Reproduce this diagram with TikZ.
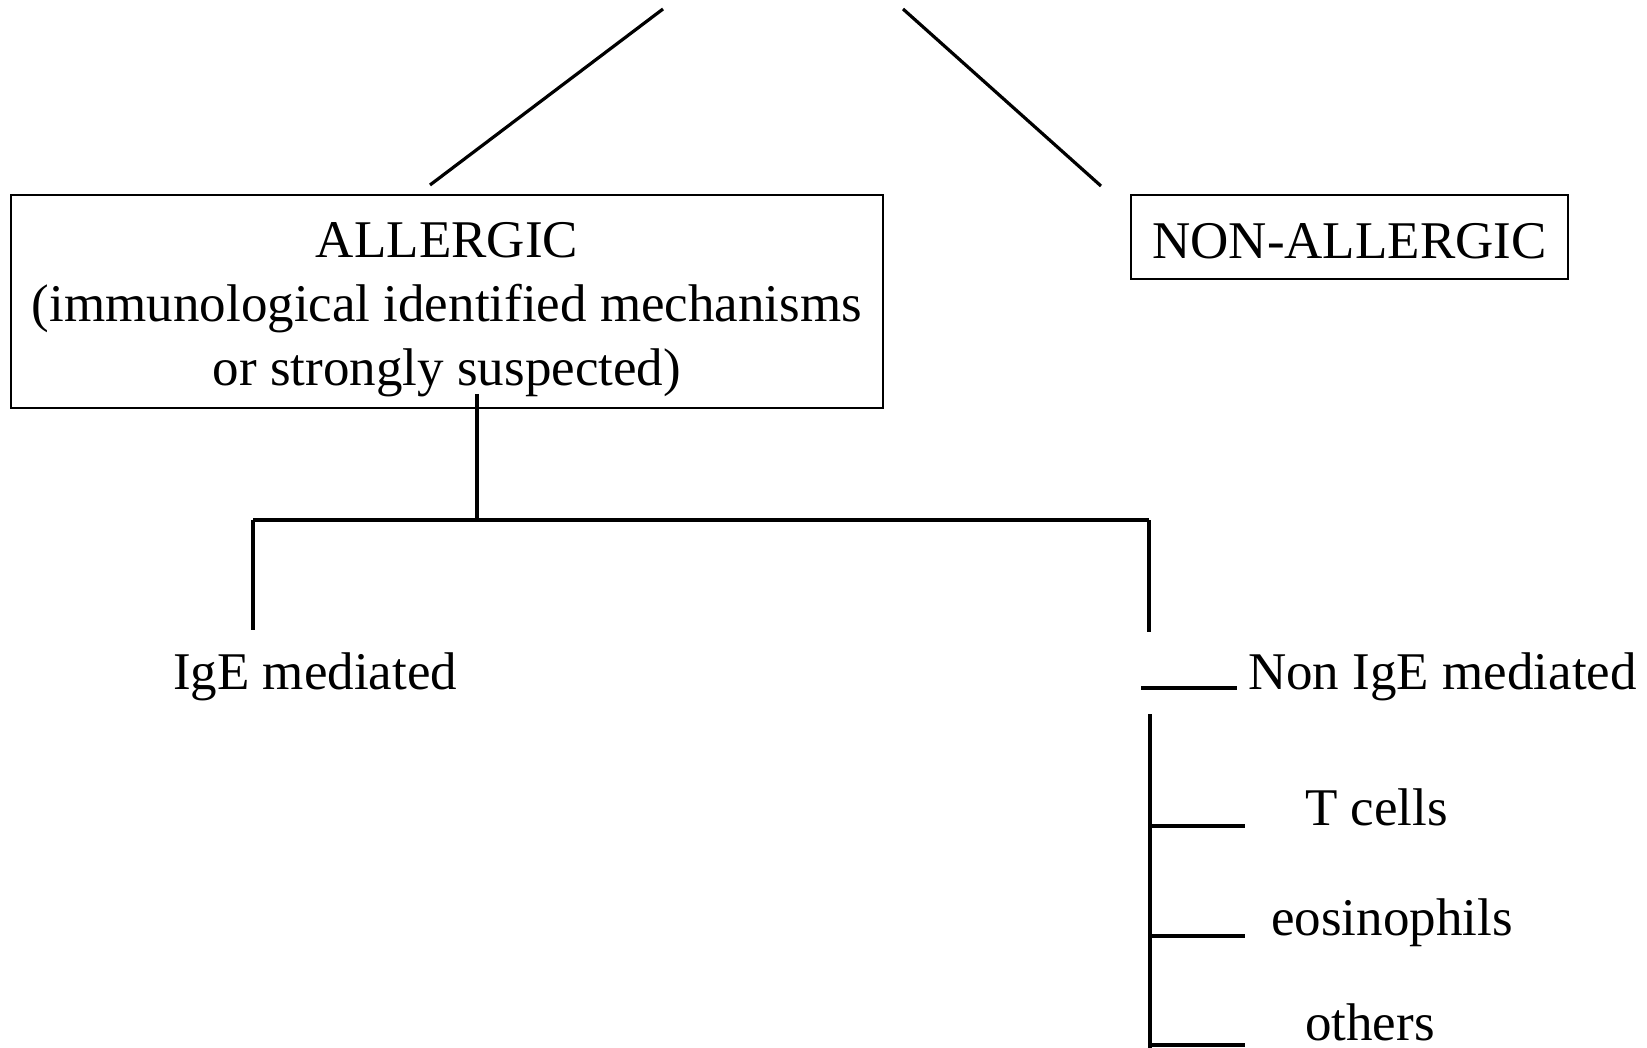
\documentclass[tikz,border=0pt]{standalone}
\usepackage{fontspec}
\setmainfont{Liberation Serif}
\begin{document}
\begin{tikzpicture}[x=1pt,y=-1pt,
  conn/.style={line width=3.2pt},
  box/.style={draw, line width=2pt, inner sep=0pt},
  lbl/.style={font=\fontsize{53}{64}\selectfont, inner sep=0pt}]
\useasboundingbox (0,0) rectangle (1647,1048);
% boxes
\node[box, minimum width=872pt, minimum height=213pt] (allergic) at (447,301.5) {};
\node[lbl, align=center] (alltext) at (447,310) {ALLERGIC\\(immunological identified mechanisms\\or strongly suspected)};
\node[box, minimum width=437pt, minimum height=84pt] (nonallergic) at (1349.5,237) {};
\node[lbl] (nonalltext) at (1349.5,241) {NON-ALLERGIC};
% labels
\node[lbl, anchor=base west] (ige) at (173,689) {IgE mediated};
\node[lbl, anchor=base west] (nonige) at (1248,689) {Non IgE mediated};
\node[lbl, anchor=base west] (tcells) at (1305,825) {T cells};
\node[lbl, anchor=base west] (eos) at (1271,935) {eosinophils};
\node[lbl, anchor=base west] (others) at (1305,1040) {others};
% connector end points
\coordinate (t1) at (663,9);
\coordinate (b1) at (430,185);
\coordinate (t2) at (903,9);
\coordinate (b2) at (1101,186);
\coordinate (s0) at (477,394);
\coordinate (j0) at (477,520);
\coordinate (jl) at (253,520);
\coordinate (jr) at (1149,520);
\coordinate (el) at (253,630);
\coordinate (er) at (1149,632);
\coordinate (n1) at (1141,688);
\coordinate (n2) at (1237,688);
\coordinate (v1) at (1150,714);
\coordinate (v2) at (1150,1048);
\coordinate (h1) at (1150,826);
\coordinate (h1e) at (1245,826);
\coordinate (h2) at (1150,936);
\coordinate (h2e) at (1245,936);
\coordinate (h3) at (1150,1045);
\coordinate (h3e) at (1245,1045);
% connectors
\draw[conn] (t1) -- (b1);
\draw[conn] (t2) -- (b2);
\draw[conn] (s0) -- (j0);
\draw[conn] (jl) -- (jr);
\draw[conn] (jl) -- (el);
\draw[conn] (jr) -- (er);
\draw[conn] (n1) -- (n2);
\draw[conn] (v1) -- (v2);
\draw[conn] (h1) -- (h1e);
\draw[conn] (h2) -- (h2e);
\draw[conn] (h3) -- (h3e);
\end{tikzpicture}
\end{document}
